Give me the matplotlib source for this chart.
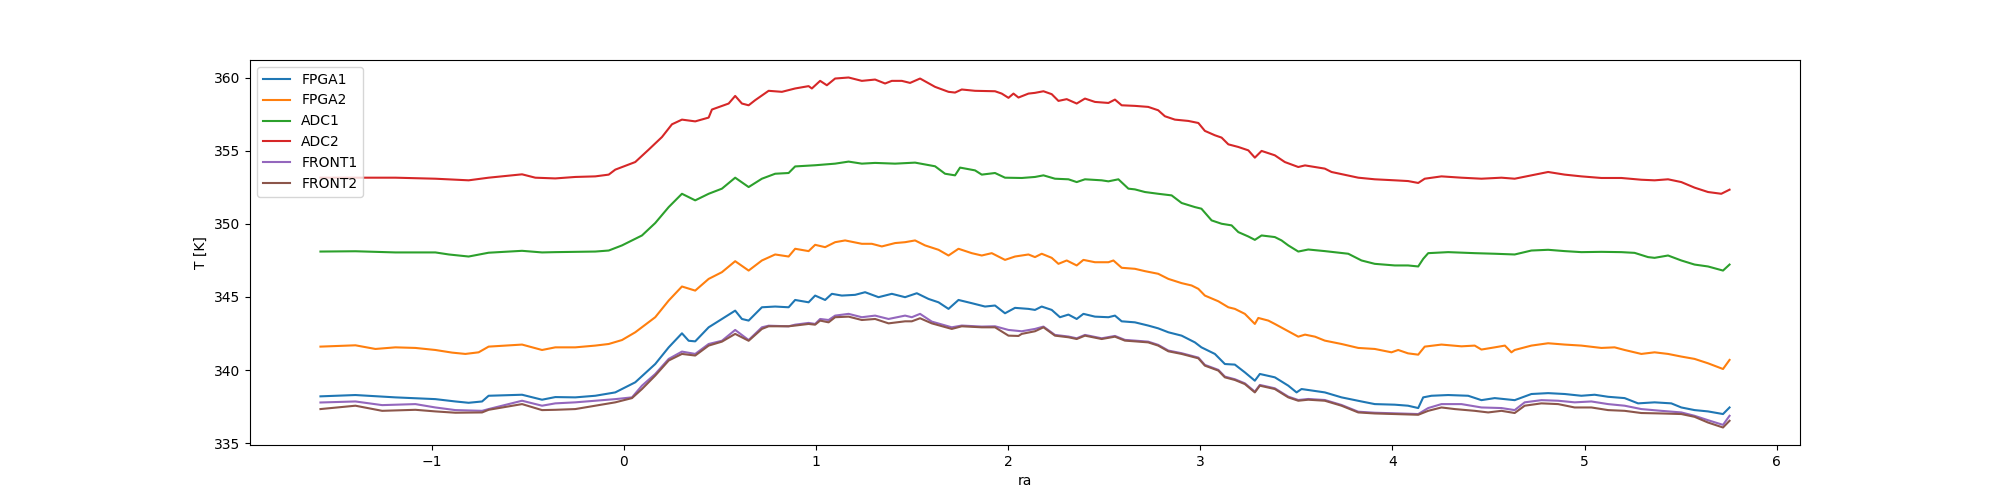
import matplotlib
matplotlib.use("Agg")
import matplotlib.pyplot as plt

ra_adc2 = [-1.578,-1.396,-1.188,-0.980,-0.807,-0.703,-0.529,-0.460,-0.356,-0.252,-0.148,-0.078,-0.044,0.060,0.130,0.199,0.251,0.303,0.372,0.442,0.459,0.546,0.580,0.615,0.650,0.684,0.754,0.823,0.892,0.962,0.979,1.022,1.057,1.100,1.170,1.239,1.308,1.360,1.395,1.447,1.490,1.542,1.620,1.690,1.724,1.759,1.828,1.932,1.967,2.002,2.028,2.054,2.106,2.140,2.184,2.227,2.262,2.305,2.357,2.400,2.452,2.522,2.556,2.591,2.660,2.729,2.781,2.816,2.868,2.938,2.990,3.024,3.076,3.111,3.146,3.198,3.250,3.284,3.319,3.388,3.440,3.510,3.545,3.648,3.683,3.822,3.908,4.012,4.081,4.134,4.168,4.255,4.359,4.463,4.567,4.636,4.723,4.810,4.896,4.983,5.087,5.191,5.295,5.364,5.434,5.503,5.572,5.642,5.711,5.754]
T_adc2 = [353.15,353.15,353.15,353.08,352.97,353.15,353.38,353.15,353.10,353.20,353.24,353.36,353.70,354.22,355.07,355.93,356.80,357.12,357.00,357.26,357.81,358.22,358.74,358.22,358.10,358.45,359.09,359.02,359.25,359.41,359.25,359.77,359.47,359.93,360.00,359.77,359.86,359.59,359.77,359.77,359.63,359.93,359.36,359.02,358.97,359.18,359.09,359.06,358.90,358.61,358.90,358.63,358.90,358.95,359.06,358.86,358.40,358.52,358.22,358.56,358.33,358.26,358.49,358.10,358.06,357.99,357.76,357.35,357.12,357.03,356.89,356.35,356.05,355.89,355.43,355.25,355.02,354.52,354.98,354.68,354.22,353.88,353.99,353.77,353.54,353.15,353.04,352.97,352.92,352.79,353.08,353.24,353.15,353.08,353.15,353.08,353.31,353.54,353.36,353.24,353.13,353.13,353.01,352.97,353.04,352.85,352.47,352.17,352.05,352.33]

ra_adc1 = [-1.578,-1.396,-1.188,-0.980,-0.910,-0.807,-0.703,-0.529,-0.425,-0.356,-0.252,-0.148,-0.078,-0.009,0.095,0.164,0.234,0.303,0.372,0.442,0.511,0.580,0.650,0.719,0.788,0.858,0.892,0.996,1.100,1.170,1.239,1.308,1.412,1.516,1.620,1.672,1.724,1.750,1.828,1.863,1.932,1.984,2.071,2.140,2.184,2.244,2.314,2.357,2.400,2.487,2.522,2.574,2.626,2.660,2.712,2.781,2.851,2.903,2.972,3.006,3.059,3.111,3.163,3.198,3.250,3.284,3.319,3.388,3.423,3.458,3.510,3.562,3.648,3.770,3.839,3.908,4.012,4.081,4.134,4.160,4.186,4.290,4.428,4.532,4.636,4.723,4.810,4.896,4.983,5.087,5.191,5.260,5.330,5.364,5.434,5.503,5.572,5.642,5.720,5.754]
T_adc1 = [348.10,348.12,348.04,348.04,347.90,347.76,348.02,348.15,348.04,348.06,348.08,348.10,348.17,348.52,349.20,350.05,351.14,352.05,351.60,352.05,352.40,353.15,352.51,353.08,353.42,353.47,353.92,354.00,354.11,354.25,354.11,354.16,354.11,354.18,353.93,353.42,353.31,353.84,353.65,353.36,353.47,353.15,353.13,353.20,353.31,353.08,353.04,352.85,353.04,352.97,352.90,353.04,352.40,352.35,352.17,352.05,351.94,351.42,351.14,351.03,350.23,350.00,349.89,349.43,349.13,348.90,349.20,349.09,348.86,348.52,348.10,348.24,348.13,347.95,347.49,347.26,347.15,347.15,347.08,347.60,347.99,348.06,347.99,347.95,347.90,348.17,348.22,348.13,348.06,348.08,348.06,348.01,347.72,347.67,347.83,347.49,347.21,347.08,346.80,347.21]

ra_fpga2 = [-1.578,-1.396,-1.292,-1.188,-1.084,-0.980,-0.893,-0.824,-0.755,-0.703,-0.529,-0.425,-0.356,-0.252,-0.148,-0.078,-0.009,0.060,0.164,0.234,0.303,0.372,0.442,0.511,0.580,0.650,0.719,0.788,0.858,0.892,0.962,0.996,1.048,1.100,1.152,1.239,1.291,1.343,1.412,1.464,1.516,1.568,1.638,1.690,1.742,1.811,1.863,1.915,1.984,2.036,2.106,2.140,2.175,2.227,2.262,2.305,2.357,2.392,2.452,2.522,2.548,2.591,2.660,2.712,2.781,2.834,2.903,2.955,2.990,3.024,3.094,3.146,3.180,3.232,3.284,3.302,3.354,3.388,3.458,3.510,3.545,3.597,3.648,3.735,3.822,3.908,3.995,4.030,4.081,4.134,4.168,4.255,4.359,4.428,4.463,4.532,4.585,4.619,4.636,4.723,4.810,4.896,4.983,5.087,5.156,5.208,5.295,5.364,5.434,5.503,5.572,5.642,5.720,5.754]
T_fpga2 = [341.60,341.69,341.44,341.55,341.51,341.37,341.19,341.10,341.21,341.60,341.74,341.37,341.55,341.55,341.67,341.78,342.05,342.58,343.61,344.75,345.71,345.43,346.23,346.69,347.44,346.80,347.49,347.90,347.76,348.29,348.13,348.56,348.40,348.74,348.86,348.63,348.63,348.45,348.68,348.74,348.86,348.52,348.22,347.83,348.29,347.99,347.83,347.99,347.53,347.76,347.90,347.72,347.95,347.67,347.26,347.49,347.15,347.53,347.37,347.37,347.49,346.99,346.92,346.76,346.58,346.23,345.94,345.78,345.55,345.09,344.70,344.29,344.18,343.84,343.15,343.56,343.38,343.15,342.65,342.28,342.42,342.28,342.01,341.78,341.51,341.44,341.21,341.37,341.14,341.05,341.60,341.74,341.62,341.67,341.40,341.55,341.67,341.21,341.37,341.67,341.83,341.74,341.67,341.51,341.55,341.37,341.10,341.21,341.10,340.92,340.76,340.46,340.07,340.69]

ra_fpga1 = [-1.578,-1.396,-1.188,-0.980,-0.876,-0.807,-0.737,-0.703,-0.529,-0.425,-0.356,-0.252,-0.148,-0.044,0.060,0.164,0.234,0.303,0.338,0.372,0.442,0.511,0.580,0.615,0.650,0.719,0.788,0.858,0.892,0.962,0.996,1.048,1.083,1.135,1.204,1.256,1.326,1.395,1.464,1.525,1.586,1.638,1.690,1.742,1.811,1.880,1.932,1.984,2.036,2.106,2.140,2.175,2.227,2.270,2.314,2.357,2.392,2.452,2.522,2.556,2.591,2.660,2.729,2.781,2.834,2.903,2.972,3.006,3.076,3.128,3.180,3.232,3.284,3.310,3.388,3.458,3.501,3.527,3.648,3.735,3.839,3.908,4.012,4.081,4.134,4.160,4.203,4.290,4.394,4.463,4.532,4.636,4.723,4.810,4.896,4.983,5.052,5.122,5.208,5.278,5.364,5.451,5.503,5.572,5.642,5.720,5.754]
T_fpga1 = [338.20,338.29,338.13,338.01,337.85,337.76,337.85,338.24,338.31,337.97,338.15,338.13,338.24,338.47,339.16,340.41,341.55,342.51,342.00,341.96,342.92,343.49,344.06,343.49,343.38,344.29,344.34,344.29,344.79,344.63,345.09,344.79,345.21,345.09,345.14,345.32,344.98,345.21,344.98,345.25,344.86,344.63,344.18,344.79,344.57,344.34,344.41,343.88,344.25,344.18,344.11,344.34,344.11,343.61,343.79,343.49,343.84,343.65,343.61,343.72,343.33,343.26,343.04,342.85,342.58,342.35,341.89,341.55,341.10,340.41,340.37,339.84,339.27,339.73,339.50,338.93,338.47,338.70,338.47,338.13,337.85,337.67,337.63,337.56,337.40,338.13,338.24,338.29,338.24,337.94,338.08,337.94,338.36,338.42,338.36,338.24,338.31,338.17,338.08,337.72,337.79,337.72,337.44,337.26,337.17,336.99,337.44]

ra_front1 = [-1.578,-1.396,-1.257,-1.084,-0.980,-0.876,-0.737,-0.703,-0.529,-0.425,-0.356,-0.252,-0.148,-0.044,0.043,0.095,0.164,0.234,0.303,0.372,0.442,0.511,0.580,0.650,0.719,0.754,0.858,0.892,0.962,0.996,1.022,1.066,1.100,1.170,1.239,1.308,1.378,1.464,1.499,1.542,1.603,1.707,1.759,1.863,1.932,2.002,2.071,2.140,2.184,2.244,2.314,2.357,2.400,2.487,2.556,2.608,2.660,2.729,2.781,2.834,2.903,2.990,3.024,3.094,3.128,3.180,3.232,3.284,3.310,3.388,3.458,3.510,3.562,3.648,3.735,3.822,3.908,4.012,4.134,4.186,4.255,4.359,4.463,4.567,4.636,4.688,4.775,4.862,4.948,5.035,5.122,5.208,5.295,5.399,5.503,5.572,5.642,5.720,5.754]
T_front1 = [337.78,337.85,337.60,337.67,337.44,337.26,337.21,337.33,337.90,337.56,337.72,337.79,337.90,338.01,338.13,338.93,339.73,340.76,341.26,341.10,341.78,342.00,342.74,342.05,342.92,343.03,342.99,343.10,343.22,343.15,343.49,343.42,343.72,343.84,343.61,343.72,343.49,343.72,343.61,343.84,343.31,342.92,343.04,342.97,342.99,342.74,342.65,342.81,342.97,342.40,342.29,342.17,342.40,342.17,342.33,342.06,342.01,341.94,341.72,341.33,341.15,340.85,340.35,340.01,339.55,339.37,339.09,338.52,338.98,338.75,338.18,337.95,338.02,337.95,337.61,337.15,337.08,337.04,336.99,337.40,337.67,337.67,337.44,337.40,337.26,337.79,337.94,337.90,337.79,337.85,337.67,337.56,337.33,337.21,337.10,336.87,336.57,336.25,336.87]

ra_front2 = [-1.578,-1.396,-1.257,-1.084,-0.980,-0.876,-0.737,-0.703,-0.529,-0.425,-0.356,-0.252,-0.148,-0.044,0.043,0.095,0.164,0.234,0.303,0.372,0.442,0.511,0.580,0.650,0.719,0.754,0.858,0.892,0.962,0.996,1.022,1.066,1.100,1.170,1.239,1.308,1.378,1.464,1.499,1.542,1.603,1.707,1.759,1.863,1.932,2.002,2.054,2.071,2.140,2.184,2.244,2.314,2.357,2.400,2.487,2.556,2.608,2.660,2.729,2.781,2.834,2.903,2.990,3.024,3.094,3.128,3.180,3.232,3.284,3.310,3.388,3.458,3.510,3.562,3.648,3.735,3.822,3.908,4.012,4.134,4.186,4.255,4.324,4.428,4.498,4.567,4.636,4.688,4.775,4.862,4.948,5.035,5.122,5.208,5.295,5.399,5.503,5.572,5.642,5.720,5.754]
T_front2 = [337.33,337.56,337.21,337.28,337.17,337.08,337.10,337.28,337.67,337.26,337.28,337.33,337.56,337.79,338.08,338.70,339.62,340.65,341.10,340.99,341.67,341.94,342.47,342.00,342.81,342.99,342.99,343.04,343.15,343.10,343.38,343.26,343.61,343.65,343.42,343.49,343.19,343.33,343.33,343.54,343.19,342.81,342.99,342.92,342.92,342.35,342.33,342.47,342.65,342.92,342.35,342.24,342.12,342.35,342.12,342.28,342.01,341.96,341.89,341.67,341.28,341.10,340.80,340.30,339.96,339.50,339.32,339.04,338.47,338.93,338.70,338.13,337.90,337.97,337.90,337.56,337.10,337.03,336.99,336.94,337.21,337.44,337.33,337.21,337.10,337.21,337.06,337.56,337.72,337.67,337.44,337.44,337.26,337.21,337.06,337.03,336.99,336.80,336.41,336.07,336.53]

series = [
    ("FPGA1", ra_fpga1, T_fpga1),
    ("FPGA2", ra_fpga2, T_fpga2),
    ("ADC1", ra_adc1, T_adc1),
    ("ADC2", ra_adc2, T_adc2),
    ("FRONT1", ra_front1, T_front1),
    ("FRONT2", ra_front2, T_front2),
]

fig, ax = plt.subplots(figsize=(20, 5), dpi=100)
for name, x, y in series:
    ax.plot(x, y, label=name)
ax.set_xlabel("ra")
ax.set_ylabel("T [K]")
ax.legend(loc="upper left")
fig.savefig("out.png")
